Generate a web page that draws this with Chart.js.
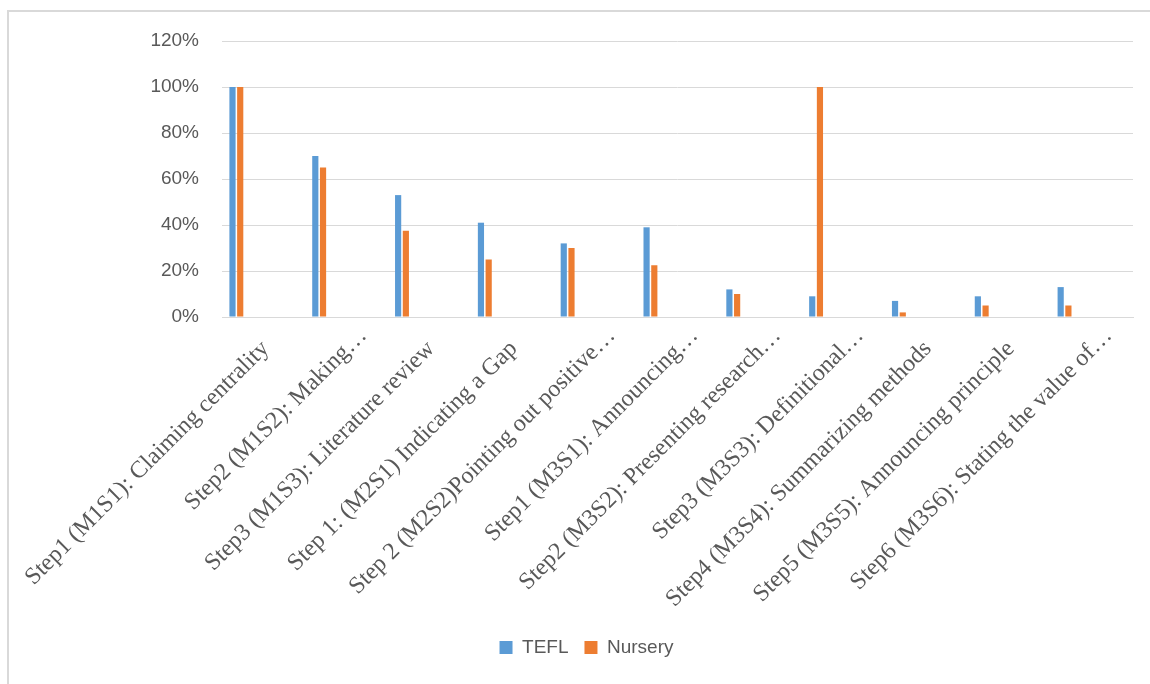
<!DOCTYPE html>
<html>
<head>
<meta charset="utf-8">
<script src="https://cdn.jsdelivr.net/npm/chart.js@4"></script>
<style>
  html, body { margin: 0; padding: 0; background: #fff; overflow: hidden; }
  #wrap { position: relative; width: 1150px; height: 684px; }
  #frame { position: absolute; left: 7px; top: 10px; width: 1170px; height: 700px;
           border: 2px solid #d9d9d9; pointer-events: none; }
</style>
</head>
<body>
<div id="wrap">
  <canvas id="chart" width="1150" height="684"></canvas>
  <div id="frame"></div>
</div>
<script>
// categories as shown (Excel truncated the long ones)
const categories = [
  "Step1 (M1S1): Claiming centrality",
  "Step2 (M1S2): Making…",
  "Step3 (M1S3): Literature review",
  "Step 1: (M2S1) Indicating a Gap",
  "Step 2 (M2S2)Pointing out positive…",
  "Step1 (M3S1): Announcing…",
  "Step2 (M3S2): Presenting research…",
  "Step3 (M3S3): Definitional…",
  "Step4 (M3S4): Summarizing methods",
  "Step5 (M3S5): Announcing principle",
  "Step6 (M3S6): Stating the value of…"
];
const tefl    = [1.00, 0.70, 0.53, 0.41, 0.32, 0.39, 0.12, 0.09, 0.07, 0.09, 0.13];
const nursery = [1.00, 0.65, 0.375, 0.25, 0.30, 0.225, 0.10, 1.00, 0.02, 0.05, 0.05];
const yTicks  = [0, 0.2, 0.4, 0.6, 0.8, 1.0, 1.2];

// the source sheet has extra empty series, they keep the bars in the left of each slot
const emptySeries = [1, 2, 3, 4, 5, 6, 7].map(n => ({ label: "blank" + n, data: [] }));

const grey = '#595959';
const catFont = { family: 'Liberation Serif', size: 24 };

// in the original the cut-off labels (ending in …) sit a bit further up the slope
const nudgeCutLabels = {
  id: 'nudgeCutLabels',
  beforeDraw(chart) {
    const items = chart.scales.x.getLabelItems();
    if (items._nudged) return;
    items.forEach(it => {
      if (it.label.endsWith('…')) {
        it.options.translation[0] += 15;
        it.options.translation[1] -= 13;
      }
    });
    items._nudged = true;
  }
};

new Chart(document.getElementById('chart'), {
  type: 'bar',
  data: {
    labels: categories,
    datasets: [
      { label: 'TEFL', data: tefl, backgroundColor: '#5b9bd5' },
      { label: 'Nursery', data: nursery, backgroundColor: '#ed7d31' },
      ...emptySeries
    ]
  },
  plugins: [nudgeCutLabels],
  options: {
    responsive: false,
    animation: false,
    categoryPercentage: 0.84,
    barPercentage: 0.8,
    layout: { padding: { left: 40, right: 17, top: 41, bottom: 17 } },
    plugins: {
      tooltip: { enabled: false },
      legend: {
        position: 'bottom',
        labels: {
          filter: item => item.datasetIndex < 2,
          boxWidth: 13, boxHeight: 13,
          padding: 16,
          color: grey,
          font: { family: 'Liberation Sans', size: 19 }
        }
      }
    },
    scales: {
      x: {
        grid: { display: false },
        border: { display: true, color: '#d9d9d9', width: 1 },
        ticks: {
          color: grey,
          maxRotation: 45, minRotation: 45,
          autoSkip: false,
          padding: 10,
          labelOffset: 2,
          font: catFont
        },
        afterFit: s => { s.height = 305; }
      },
      y: {
        min: 0, max: 1.2,
        afterBuildTicks: s => { s.ticks = yTicks.map(v => ({ value: v })); },
        afterFit: s => { s.width = 182; },
        grid: { color: '#d9d9d9', lineWidth: 1, drawTicks: false },
        border: { display: false },
        ticks: {
          color: grey,
          padding: 23,
          font: { family: 'Liberation Sans', size: 19 },
          callback: v => Math.round(v * 100) + '%'
        }
      }
    }
  }
});
</script>
</body>
</html>
